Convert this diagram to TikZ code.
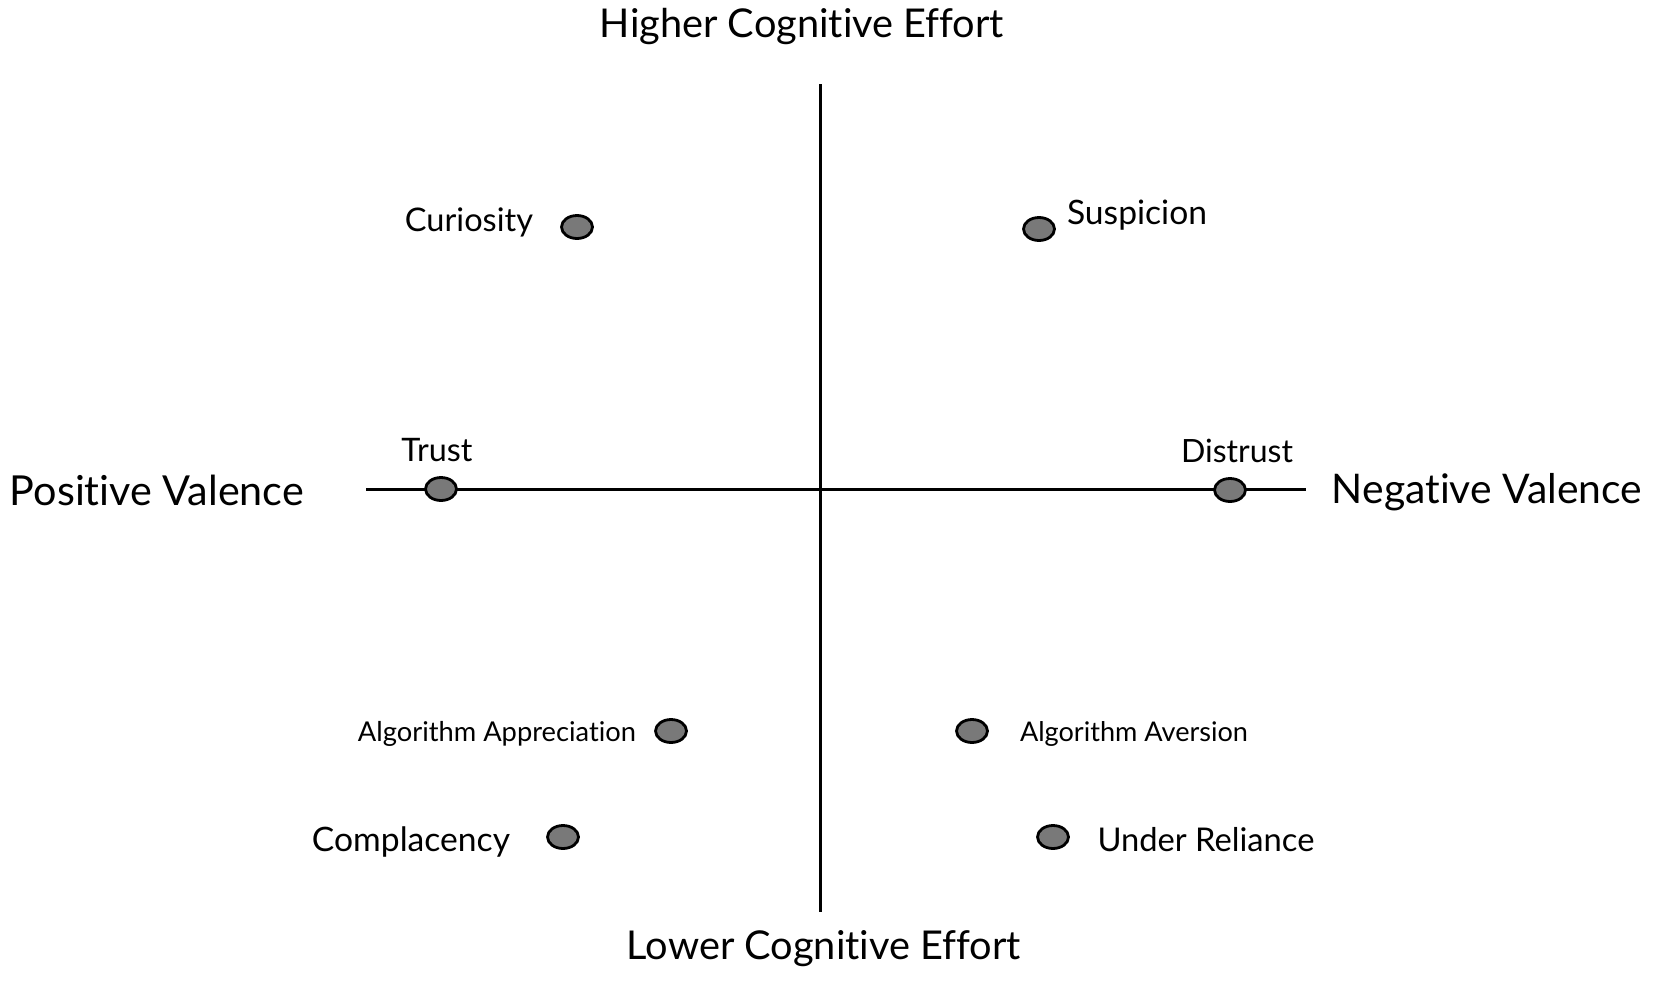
\documentclass[tikz,border=0pt]{standalone}
\usepackage{fontspec}
\setmainfont{Lato}[Ligatures=NoCommon]
\usepackage{graphicx}
\usetikzlibrary{shapes.geometric}
\newcommand{\fitw}[2]{\resizebox{#1pt}{!}{#2}}
\begin{document}
\begin{tikzpicture}[x=1pt,y=-1pt,
  axis/.style={line width=3pt, black},
  dotmark/.style={ellipse, draw=black, line width=2.8pt, fill=gray!95!black, minimum width=31pt, minimum height=23pt, inner sep=0pt},
  lbl/.style={inner sep=0pt, text=black}]
\useasboundingbox (0,0) rectangle (1654,980);
% axes
\coordinate (vt) at (820,84);
\coordinate (vb) at (820,912);
\coordinate (hl) at (366,489);
\coordinate (hr) at (1306,489);
\draw[axis] (vt) -- (vb);
\draw[axis] (hl) -- (hr);
% axis labels
\node[lbl] (higher) at (802,27) {\fitw{404}{Higher Cognitive Effort}};
\node[lbl] (lower) at (824,949) {\fitw{394}{Lower Cognitive Effort}};
\node[lbl] (pos) at (157,490) {\fitw{294}{Positive Valence}};
\node[lbl] (neg) at (1487,492) {\fitw{310}{Negative Valence}};
% dots
\node[dotmark] (dcur) at (577,227) {};
\node[dotmark] (dsus) at (1039,229) {};
\node[dotmark] (dtru) at (441,489) {};
\node[dotmark] (ddis) at (1230,490) {};
\node[dotmark] (dapp) at (671,731) {};
\node[dotmark] (dcom) at (563,837) {};
\node[dotmark] (dave) at (972,731) {};
\node[dotmark] (dund) at (1053,837) {};
% labels
\node[lbl] (tcur) at (469,222) {\fitw{128}{Curiosity}};
\node[lbl] (tsus) at (1137,215) {\fitw{140}{Suspicion}};
\node[lbl] (ttru) at (437,450) {\fitw{71}{Trust}};
\node[lbl] (tdis) at (1237,451) {\fitw{112}{Distrust}};
\node[lbl] (tapp) at (497,734) {\fitw{278}{Algorithm Appreciation}};
\node[lbl] (tcom) at (411,842) {\fitw{198}{Complacency}};
\node[lbl] (tave) at (1134,734) {\fitw{228}{Algorithm Aversion}};
\node[lbl] (tund) at (1206,840) {\fitw{217}{Under Reliance}};
\end{tikzpicture}
\end{document}
